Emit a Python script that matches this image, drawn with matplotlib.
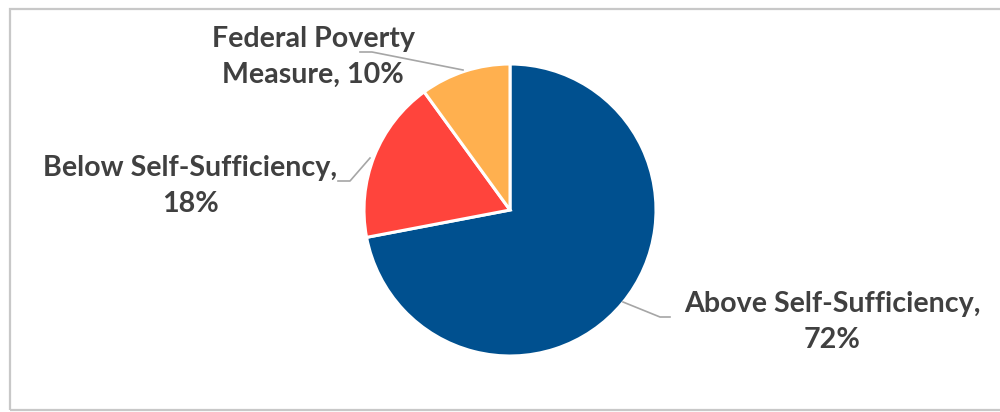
import matplotlib as mpl
mpl.use('Agg')
import matplotlib.pyplot as plt
from matplotlib.patches import Rectangle

labels = ["Above Self-Sufficiency", "Below Self-Sufficiency", "Federal Poverty\nMeasure"]
shares = [72, 18, 10]
colors = ["#00508F", "#FF443C", "#FFB04F"]

# label text position and leader line path (pixel coords, y down)
label_xy = [(832, 322), (190, 186), (313, 57)]
leaders = [
    [(623, 302), (660, 317), (670, 317)],
    [(338, 181), (350, 181), (370, 158)],
    [(360, 52), (372, 52), (463, 70)],
]

H = 412
fig = plt.figure(figsize=(10, 4.12), dpi=100)
ax = fig.add_axes([0, 0, 1, 1])

ax.pie(shares, colors=colors, startangle=90, counterclock=False,
       center=(510, H - 210), radius=146,
       wedgeprops=dict(edgecolor='white', linewidth=2.2))
ax.set_xlim(0, 1000)
ax.set_ylim(0, H)
ax.set_aspect('auto')
ax.axis('off')

# chart border
ax.add_patch(Rectangle((10, H - 410), 1000, 401, fill=False,
                       edgecolor='#c8c8c8', linewidth=1.6, clip_on=False))

for name, v, (tx, ty), path in zip(labels, shares, label_xy, leaders):
    if "\n" in name:
        txt = name + ", %d%%" % v
    else:
        txt = name + ",\n%d%%" % v
    ax.text(tx, H - ty, txt, ha='center', va='center', fontsize=20.6,
            fontweight='bold', family=['Lato', 'DejaVu Sans'], color='#404040',
            linespacing=1.45)
    ax.plot([p[0] for p in path], [H - p[1] for p in path],
            color='#a6a6a6', linewidth=1.2)

fig.savefig('out.png', dpi=100)
